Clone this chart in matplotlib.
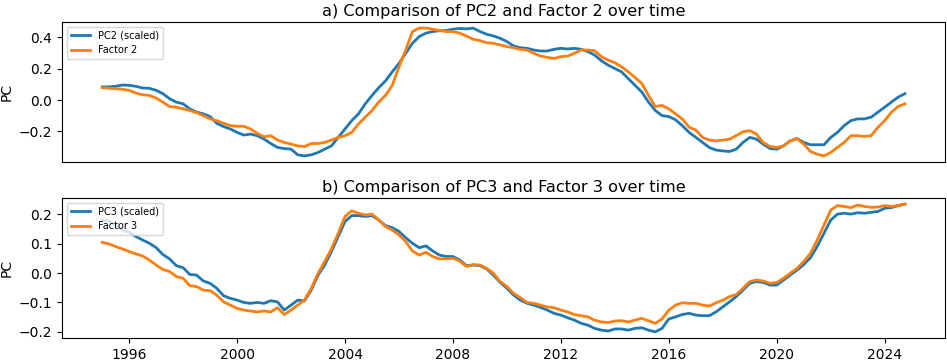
import numpy as np
import pandas as pd
import matplotlib
matplotlib.use("Agg")
import matplotlib.pyplot as plt

# quarterly dates, Jan 1995 .. Oct 2024
dates = pd.date_range("1995-01-01", "2024-10-01", freq="QS")

# panel a) PC2 (scaled) vs Factor 2
pc2 = [0.084, 0.084, 0.088, 0.096, 0.094, 0.088, 0.077, 0.075,
       0.062, 0.041, 0.009, -0.013, -0.024, -0.056, -0.077, -0.088,
       -0.105, -0.148, -0.169, -0.184, -0.206, -0.223, -0.217, -0.227,
       -0.249, -0.277, -0.302, -0.309, -0.313, -0.349, -0.356, -0.349,
       -0.334, -0.313, -0.292, -0.238, -0.184, -0.131, -0.088, -0.024,
       0.030, 0.079, 0.122, 0.180, 0.234, 0.298, 0.362, 0.405,
       0.427, 0.437, 0.442, 0.444, 0.452, 0.457, 0.454, 0.459,
       0.437, 0.420, 0.409, 0.394, 0.373, 0.345, 0.334, 0.330,
       0.319, 0.313, 0.313, 0.324, 0.330, 0.326, 0.330, 0.324,
       0.309, 0.287, 0.251, 0.223, 0.201, 0.180, 0.137, 0.094,
       0.051, -0.013, -0.066, -0.099, -0.105, -0.126, -0.163, -0.206,
       -0.238, -0.270, -0.302, -0.319, -0.324, -0.328, -0.313, -0.270,
       -0.238, -0.249, -0.281, -0.309, -0.313, -0.292, -0.260, -0.245,
       -0.270, -0.285, -0.285, -0.285, -0.238, -0.206, -0.163, -0.131,
       -0.120, -0.120, -0.109, -0.077, -0.045, -0.013, 0.019, 0.041]
factor2 = [0.079, 0.075, 0.073, 0.069, 0.062, 0.045, 0.034, 0.030,
           0.013, -0.013, -0.041, -0.045, -0.056, -0.066, -0.081, -0.099,
           -0.120, -0.131, -0.148, -0.163, -0.167, -0.167, -0.184, -0.212,
           -0.234, -0.227, -0.255, -0.270, -0.281, -0.292, -0.296, -0.277,
           -0.277, -0.270, -0.255, -0.238, -0.227, -0.206, -0.152, -0.109,
           -0.066, -0.013, 0.030, 0.094, 0.212, 0.319, 0.437, 0.459,
           0.459, 0.452, 0.444, 0.437, 0.437, 0.427, 0.409, 0.388,
           0.379, 0.366, 0.362, 0.352, 0.341, 0.334, 0.324, 0.319,
           0.298, 0.281, 0.272, 0.266, 0.277, 0.281, 0.298, 0.319,
           0.319, 0.315, 0.277, 0.255, 0.238, 0.212, 0.180, 0.144,
           0.105, 0.030, -0.041, -0.034, -0.056, -0.088, -0.120, -0.173,
           -0.191, -0.238, -0.255, -0.260, -0.255, -0.249, -0.227, -0.202,
           -0.195, -0.217, -0.270, -0.296, -0.302, -0.292, -0.260, -0.245,
           -0.281, -0.328, -0.345, -0.356, -0.334, -0.302, -0.270, -0.227,
           -0.227, -0.232, -0.227, -0.173, -0.131, -0.077, -0.041, -0.024]

# panel b) PC3 (scaled) vs Factor 3
pc3 = [0.180, 0.177, 0.163, 0.146, 0.138, 0.124, 0.112, 0.101,
       0.086, 0.063, 0.048, 0.025, 0.018, -0.005, -0.007, -0.027,
       -0.035, -0.052, -0.077, -0.086, -0.092, -0.100, -0.103, -0.100,
       -0.103, -0.094, -0.098, -0.126, -0.109, -0.092, -0.095, -0.058,
       -0.007, 0.027, 0.073, 0.124, 0.175, 0.195, 0.195, 0.192,
       0.195, 0.180, 0.161, 0.154, 0.141, 0.120, 0.101, 0.086,
       0.092, 0.075, 0.061, 0.056, 0.056, 0.044, 0.025, 0.027,
       0.025, 0.014, -0.007, -0.032, -0.052, -0.075, -0.092, -0.103,
       -0.109, -0.117, -0.126, -0.137, -0.143, -0.152, -0.160, -0.171,
       -0.177, -0.188, -0.194, -0.197, -0.190, -0.190, -0.194, -0.188,
       -0.186, -0.194, -0.200, -0.188, -0.156, -0.149, -0.141, -0.137,
       -0.143, -0.145, -0.145, -0.132, -0.115, -0.098, -0.080, -0.058,
       -0.035, -0.029, -0.032, -0.041, -0.041, -0.024, -0.007, 0.010,
       0.029, 0.052, 0.090, 0.135, 0.180, 0.200, 0.203, 0.200,
       0.205, 0.203, 0.206, 0.209, 0.220, 0.222, 0.229, 0.234]
factor3 = [0.104, 0.099, 0.090, 0.082, 0.073, 0.065, 0.058, 0.044,
           0.027, 0.012, 0.005, -0.012, -0.018, -0.043, -0.046, -0.058,
           -0.060, -0.075, -0.098, -0.109, -0.120, -0.126, -0.129, -0.132,
           -0.129, -0.132, -0.118, -0.141, -0.126, -0.109, -0.092, -0.052,
           -0.001, 0.039, 0.082, 0.135, 0.192, 0.211, 0.203, 0.197,
           0.200, 0.180, 0.158, 0.146, 0.129, 0.107, 0.075, 0.061,
           0.070, 0.056, 0.048, 0.048, 0.050, 0.041, 0.022, 0.029,
           0.027, 0.016, -0.001, -0.029, -0.046, -0.069, -0.084, -0.100,
           -0.103, -0.109, -0.115, -0.118, -0.126, -0.132, -0.141, -0.145,
           -0.149, -0.160, -0.166, -0.168, -0.163, -0.162, -0.166, -0.160,
           -0.154, -0.162, -0.171, -0.156, -0.126, -0.109, -0.101, -0.103,
           -0.103, -0.109, -0.112, -0.101, -0.092, -0.080, -0.073, -0.052,
           -0.029, -0.024, -0.027, -0.035, -0.032, -0.018, -0.001, 0.016,
           0.039, 0.067, 0.112, 0.163, 0.214, 0.229, 0.226, 0.222,
           0.231, 0.226, 0.223, 0.224, 0.229, 0.226, 0.229, 0.234]

fig, (ax1, ax2) = plt.subplots(2, 1, figsize=(9.47, 3.62), dpi=100, sharex=True)
fig.subplots_adjust(left=0.0655, right=0.998, top=0.940, bottom=0.0655, hspace=0.252)

ax1.plot(dates, pc2, color="tab:blue", lw=2, label="PC2 (scaled)")
ax1.plot(dates, factor2, color="tab:orange", lw=2, label="Factor 2")
ax1.set_title("a) Comparison of PC2 and Factor 2 over time", fontsize=11.6, pad=4)
ax1.set_ylabel("PC")
ax1.legend(loc="upper left", fontsize=7)
# no x ticks on the top panel
ax1.tick_params(axis="x", bottom=False, labelbottom=False)

ax2.plot(dates, pc3, color="tab:blue", lw=2, label="PC3 (scaled)")
ax2.plot(dates, factor3, color="tab:orange", lw=2, label="Factor 3")
ax2.set_title("b) Comparison of PC3 and Factor 3 over time", fontsize=11.6, pad=4)
ax2.set_ylabel("PC")
ax2.legend(loc="upper left", fontsize=7)

fig.savefig("out.png", dpi=100)
